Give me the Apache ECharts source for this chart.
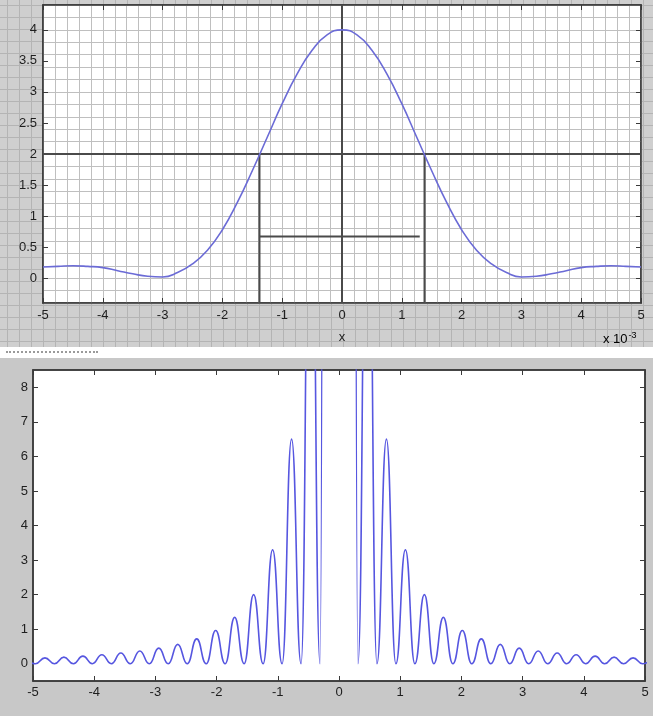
<!DOCTYPE html>
<html><head><meta charset="utf-8">
<script src="https://cdn.jsdelivr.net/npm/echarts@6/dist/echarts.min.js"></script>
<style>
html,body{margin:0;padding:0;background:#fff;}
#wrap{position:relative;width:653px;height:716px;overflow:hidden;}
#bgTop{position:absolute;left:0;top:0;width:653px;height:347px;background-color:#cfcfcf;
 background-image:linear-gradient(#b4b4b4 1px,transparent 1px),linear-gradient(90deg,#b4b4b4 1px,transparent 1px);
 background-size:12px 12px;background-position:7px 5px;}
#bgBot{position:absolute;left:0;top:358px;width:653px;height:358px;background:#c8c8c8;}
#tb{position:absolute;left:6px;top:351px;width:92px;height:0;border-top:2px dotted #9a9a9a;}
#chart{position:absolute;left:0;top:0;width:653px;height:716px;}
</style></head>
<body><div id="wrap"><div id="bgTop"></div><div id="bgBot"></div><div id="tb"></div><div id="chart"></div></div>
<script>
// ---- data ----
const xTicks = [-5,-4,-3,-2,-1,0,1,2,3,4,5];
const topYTicks = [0,0.5,1,1.5,2,2.5,3,3.5,4];
const botYTicks = [0,1,2,3,4,5,6,7,8];

const topX = [-5,-4.75,-4.5,-4.25,-4,-3.75,-3.5,-3.25,-3,-2.75,-2.5,-2.25,-2,-1.75,-1.5,-1.25,-1,-0.75,-0.5,-0.25,
  0,0.25,0.5,0.75,1,1.25,1.5,1.75,2,2.25,2.5,2.75,3,3.25,3.5,3.75,4,4.25,4.5,4.75,5];
const topY = [0.18,0.19,0.2,0.19,0.17,0.12,0.07,0.03,0.02,0.09,0.23,0.45,0.78,1.22,1.73,2.27,2.81,3.29,3.67,3.92,
  4,3.92,3.67,3.29,2.81,2.27,1.73,1.22,0.78,0.45,0.23,0.09,0.02,0.03,0.07,0.12,0.17,0.19,0.2,0.19,0.18];

// guide lines in the top plot: [x1,y1,x2,y2]
const guideLines = [
  [-5,2,5,2],
  [0,-0.4,0,4.4],
  [-1.38,-0.4,-1.38,2],
  [1.38,-0.4,1.38,2],
  [-1.38,0.67,1.3,0.67]
];

const botX = [-5.115,-4.96,-4.805,-4.65,-4.495,-4.34,-4.185,-4.03,-3.875,-3.72,-3.565,-3.41,-3.255,-3.1,-2.945,-2.79,
  -2.635,-2.48,-2.325,-2.17,-2.015,-1.86,-1.705,-1.55,-1.395,-1.24,-1.085,-0.93,-0.775,-0.62,-0.465,-0.31,-0.155,
  0,0.155,0.31,0.465,0.62,0.775,0.93,1.085,1.24,1.395,1.55,1.705,1.86,2.015,2.17,2.325,2.48,2.635,2.79,2.945,3.1,
  3.255,3.41,3.565,3.72,3.875,4.03,4.185,4.34,4.495,4.65,4.805,4.96,5.115];
const botY = [0.15,0,0.17,0,0.19,0,0.22,0,0.26,0,0.31,0,0.37,0,0.45,0,0.56,0,0.72,0,0.96,0,1.34,0,2.0,0,3.3,0,6.5,0,18,0,162,
  400,162,0,18,0,6.5,0,3.3,0,2.0,0,1.34,0,0.96,0,0.72,0,0.56,0,0.45,0,0.37,0,0.31,0,0.26,0,0.22,0,0.19,0,0.17,0,0.15];

// ---- chart ----
const chart = echarts.init(document.getElementById('chart'), null, {renderer:'canvas'});
const frame = '#3a3a3a', gridCol = '#bfbfbf';
const lblStyle = {color:'#1e1e1e', fontSize:13, fontFamily:'Liberation Sans, Arial, sans-serif'};
function tickAxis(grid, pos, min, max, extra) {
  return Object.assign({
    type:'value', gridIndex:grid, position:pos, min:min, max:max,
    axisLine:{show:true, onZero:false, lineStyle:{color:frame, width:1.5}},
    axisTick:{show:true, inside:true, length:5, lineStyle:{color:frame}},
    axisLabel:{show:false}, splitLine:{show:false}
  }, extra || {});
}
const series = [];
guideLines.forEach(g => series.push({
  type:'line', xAxisIndex:0, yAxisIndex:0, data:[[g[0],g[1]],[g[2],g[3]]],
  symbol:'none', silent:true, lineStyle:{color:'#4a4a4a', width:2}
}));
series.push({
  type:'line', xAxisIndex:0, yAxisIndex:0, data: topX.map((x,i)=>[x, topY[i]]),
  smooth:true, symbol:'none', lineStyle:{color:'#6b6bd6', width:1.6}, z:5
});
series.push({
  type:'line', xAxisIndex:2, yAxisIndex:3, data: botX.map((x,i)=>[x, botY[i]]),
  smooth:0.5, smoothMonotone:'x', symbol:'none', clip:true,
  lineStyle:{color:'#5656e0', width:1.6}
});

chart.setOption({
  animation:false,
  backgroundColor:'transparent',
  grid:[
    {left:43, top:5, width:598, height:298, show:true, backgroundColor:'#ffffff', borderColor:frame, borderWidth:1.5},
    {left:33, top:370, width:612, height:311, show:true, backgroundColor:'#ffffff', borderColor:frame, borderWidth:1.5}
  ],
  xAxis:[
    tickAxis(0,'bottom',-5,5,{interval:1,
      axisLabel:Object.assign({show:true, margin:6}, lblStyle),
      splitLine:{show:true, lineStyle:{color:gridCol, width:1}},
      minorTick:{show:false, splitNumber:5},
      minorSplitLine:{show:true, lineStyle:{color:gridCol, width:1}},
      name:'x', nameLocation:'middle', nameGap:28, nameTextStyle:lblStyle}),
    tickAxis(0,'top',-5,5,{interval:1}),
    tickAxis(1,'bottom',-5,5,{interval:1, axisLabel:Object.assign({show:true, margin:5}, lblStyle)}),
    tickAxis(1,'top',-5,5,{interval:1})
  ],
  yAxis:[
    tickAxis(0,'left',-0.4,4.4,{
      axisTick:{show:true, inside:true, length:5, lineStyle:{color:frame}, customValues:topYTicks},
      axisLabel:Object.assign({show:true, margin:6, customValues:topYTicks}, lblStyle)}),
    tickAxis(0,'right',-0.4,4.4,{
      axisTick:{show:true, inside:true, length:5, lineStyle:{color:frame}, customValues:topYTicks}}),
    {type:'value', gridIndex:0, position:'left', min:-0.4, max:4.4, interval:0.2,
      axisLine:{show:false}, axisTick:{show:false}, axisLabel:{show:false},
      splitLine:{show:true, lineStyle:{color:gridCol, width:1}}},
    tickAxis(1,'left',-0.5,8.5,{
      axisTick:{show:true, inside:true, length:5, lineStyle:{color:frame}, customValues:botYTicks},
      axisLabel:Object.assign({show:true, margin:5, customValues:botYTicks}, lblStyle)}),
    tickAxis(1,'right',-0.5,8.5,{
      axisTick:{show:true, inside:true, length:5, lineStyle:{color:frame}, customValues:botYTicks}})
  ],
  graphic:[
    {type:'text', left:603, top:331, style:{
      text:'{a|x 10}{b|-3}',
      rich:{a:Object.assign({}, lblStyle), b:Object.assign({}, lblStyle, {fontSize:9, verticalAlign:'top', padding:[0,0,8,1]})}
    }}
  ],
  series: series
});
</script>
</body></html>
